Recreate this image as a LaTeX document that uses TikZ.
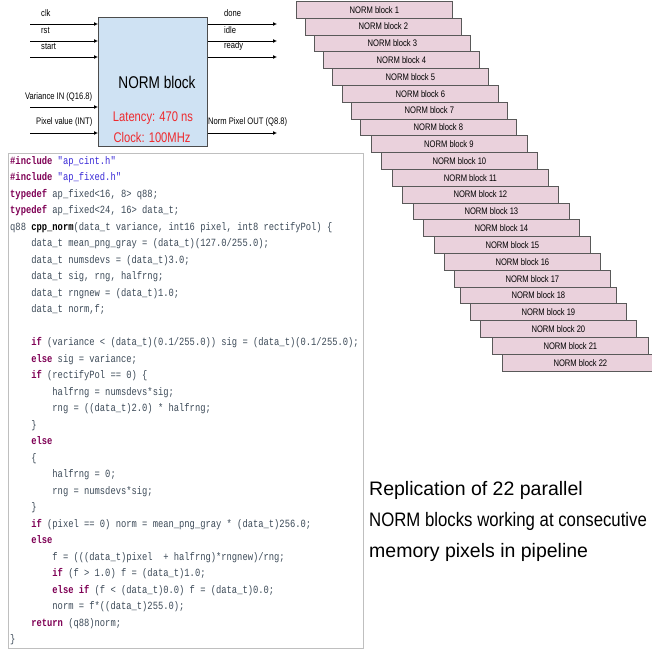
\documentclass[tikz,border=0pt]{standalone}
\usepackage{fontspec}
\setmainfont{Liberation Sans}
\newfontfamily\narrowsans[FakeStretch=0.8]{Liberation Sans}
\newfontfamily\capnarrow[FakeStretch=0.86]{Liberation Sans}
\newfontfamily\codefont[FakeStretch=0.8]{Liberation Mono}
\usetikzlibrary{arrows.meta}
\definecolor{blockblue}{HTML}{CFE2F3}
\definecolor{blockpink}{HTML}{EAD1DC}
\definecolor{latred}{HTML}{EE2A2E}
\definecolor{codeplain}{HTML}{3C4A58}
\definecolor{codekw}{HTML}{7F0055}
\definecolor{codestr}{HTML}{3A2AD8}
\newcommand\kw[1]{\textcolor{codekw}{\bfseries #1}}
\newcommand\str[1]{\textcolor{codestr}{#1}}
\newcommand\ind{\hphantom{xxxx}}
\tikzset{
  sig/.style={line width=0.9pt, -{Latex[length=4pt,width=4pt]}},
  portlabel/.style={anchor=west, inner sep=0, font=\narrowsans\fontsize{9.5}{11}\selectfont},
  redtext/.style={font=\narrowsans\fontsize{14}{16}\selectfont, text=latred},
  blk/.style={draw=black!65, fill=blockpink, line width=0.8pt, anchor=north west,
    minimum width=156pt, minimum height=16.8pt, inner sep=0,
    font=\narrowsans\fontsize{9.5}{11}\selectfont},
}
\begin{document}
\begin{tikzpicture}[x=1pt,y=-1pt]
\useasboundingbox (0,0) rectangle (652,656);
\fill[white] (0,0) rectangle (652,656);
\clip (0,0) rectangle (652,656);

% interface of one NORM block
\node[draw=black!70, fill=blockblue, line width=0.8pt, anchor=north west,
  minimum width=109pt, minimum height=129pt, inner sep=0] (nb) at (98,17) {};
\node[font=\narrowsans\fontsize{17}{20}\selectfont] (nbt) at (157,82) {NORM block};
\node[redtext] (lat) at (153,118) {Latency: 470 ns};
\node[redtext] (clkrate) at (152,137) {Clock: 100MHz};

% input ports
\coordinate (iclk) at (30,24);
\coordinate (irst) at (30,41);
\coordinate (istart) at (30,57);
\coordinate (ivar) at (30,107);
\coordinate (ipix) at (30,133);
\foreach \p in {iclk,irst,istart,ivar,ipix}
  \draw[sig] (\p) -- (\p -| nb.west);
\node[portlabel] (lclk) at (41,13) {clk};
\node[portlabel] (lrst) at (41,30) {rst};
\node[portlabel] (lstart) at (41,46) {start};
\node[portlabel] (lvar) at (25,97) {Variance IN (Q16.8)};
\node[portlabel] (lpix) at (36,122) {Pixel value (INT)};

% output ports
\coordinate (odone) at (277,24);
\coordinate (oidle) at (277,41);
\coordinate (oready) at (277,57);
\coordinate (oout) at (277,133);
\foreach \p in {odone,oidle,oready,oout}
  \draw[sig] (\p -| nb.east) -- (\p);
\node[portlabel] (ldone) at (224,13) {done};
\node[portlabel] (lidle) at (224,30) {idle};
\node[portlabel] (lready) at (224,46) {ready};
\node[portlabel] (lout) at (208,122) {Norm Pixel OUT (Q8.8)};

% 22 replicated blocks
\foreach \l [count=\i] in {296,305,314,323,332,342,351,360,370.5,381,392,402,413,423,434,444,454,460,470,480,492,502}
  \node[blk] (b\i) at (\l,{1+16.8*(\i-1)}) {NORM block \i};

% HLS source listing
\node[draw=black!25, anchor=north west, minimum width=355pt, minimum height=495pt,
  inner sep=0] (panel) at (8,153) {};
\node[anchor=north west, inner sep=0, align=left, text=codeplain,
  font=\codefont\fontsize{11}{16.5}\selectfont] (code) at (10,156) {%
\kw{\#include} \str{"ap\_cint.h"}\\
\kw{\#include} \str{"ap\_fixed.h"}\\
\kw{typedef} ap\_fixed<16, 8> q88;\\
\kw{typedef} ap\_fixed<24, 16> data\_t;\\
q88 \textcolor{black}{\bfseries cpp\_norm}(data\_t variance, int16 pixel, int8 rectifyPol) \{\\
\ind data\_t mean\_png\_gray = (data\_t)(127.0/255.0);\\
\ind data\_t numsdevs = (data\_t)3.0;\\
\ind data\_t sig, rng, halfrng;\\
\ind data\_t rngnew = (data\_t)1.0;\\
\ind data\_t norm,f;\\
\strut\\
\ind \kw{if} (variance < (data\_t)(0.1/255.0)) sig = (data\_t)(0.1/255.0);\\
\ind \kw{else} sig = variance;\\
\ind \kw{if} (rectifyPol == 0) \{\\
\ind\ind halfrng = numsdevs*sig;\\
\ind\ind rng = ((data\_t)2.0) * halfrng;\\
\ind \}\\
\ind \kw{else}\\
\ind \{\\
\ind\ind halfrng = 0;\\
\ind\ind rng = numsdevs*sig;\\
\ind \}\\
\ind \kw{if} (pixel == 0) norm = mean\_png\_gray * (data\_t)256.0;\\
\ind \kw{else}\\
\ind\ind f = (((data\_t)pixel\hphantom{xx}+ halfrng)*rngnew)/rng;\\
\ind\ind \kw{if} (f > 1.0) f = (data\_t)1.0;\\
\ind\ind \kw{else if} (f < (data\_t)0.0) f = (data\_t)0.0;\\
\ind\ind norm = f*((data\_t)255.0);\\
\ind \kw{return} (q88)norm;\\
\}};

% caption
\node[anchor=north west, inner sep=0, align=left,
  font=\fontsize{19.5}{31}\selectfont] (rep) at (369,481)
  {Replication of 22 parallel\\{\capnarrow NORM blocks working at consecutive}\\memory pixels in pipeline};
\end{tikzpicture}
\end{document}
